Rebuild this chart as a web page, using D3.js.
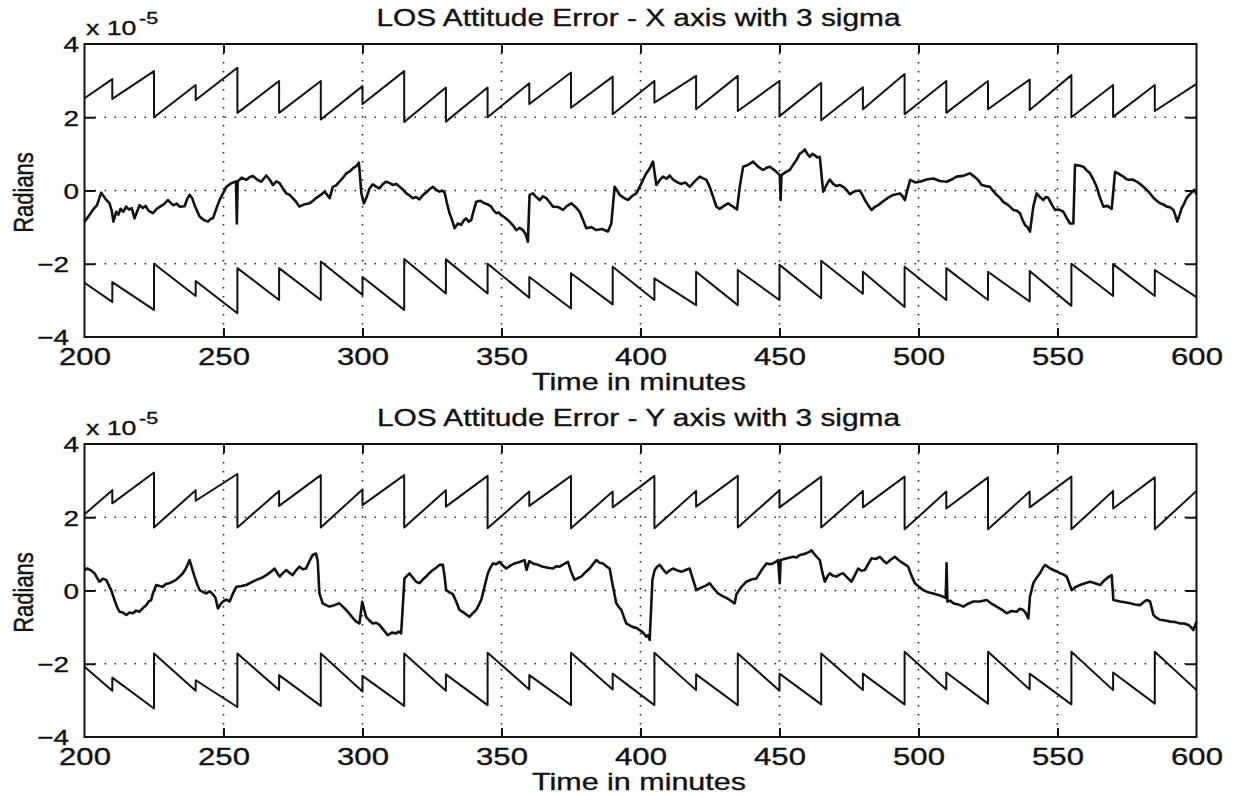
<!DOCTYPE html>
<html>
<head>
<meta charset="utf-8">
<script src="https://cdn.jsdelivr.net/npm/d3@7"></script>
<style>
body { margin: 0; background: #fff; }
text { font-family: "Liberation Sans", Arial, Helvetica, sans-serif; fill: #111; stroke: #111; stroke-width: 0.35px; }
</style>
</head>
<body>
<svg id="chart" width="1236" height="796"></svg>
<script>
// axis ticks
const timeTicks = [200, 250, 300, 350, 400, 450, 500, 550, 600];
const radTicks = [-4, -2, 0, 2, 4];
const gridTimes = [250, 300, 350, 400, 450, 500, 550];
const gridRads = [-2, 0, 2];

// 3 sigma envelope, [minute, value in 1e-5 rad] (vertices of the sawtooth)
const sigmaX = [
  [200,2.52],[210,3.04],[210,2.50],[225,3.26],[225,2.00],[240,2.88],[240,2.47],
  [255,3.35],[255,2.12],[270,2.99],[270,2.12],[285,2.99],[285,1.94],[300,2.85],
  [300,2.36],[315,3.26],[315,1.87],[330,2.81],[330,1.88],[345,2.81],[345,2.00],
  [360,2.93],[360,2.36],[375,3.22],[375,2.26],[390,3.11],[390,2.08],[405,2.99],
  [405,2.40],[420,3.13],[420,2.22],[435,3.13],[435,2.17],[450,2.99],[450,2.03],
  [465,2.94],[465,1.92],[480,2.82],[480,2.22],[495,3.18],[495,2.08],[510,2.99],
  [510,2.12],[525,2.99],[525,2.22],[540,3.03],[540,2.20],[555,3.15],[555,2.00],
  [570,2.88],[570,2.01],[585,2.88],[585,2.17],[600,2.91]
];
const sigmaY = [
  [200,2.08],[210,2.74],[210,2.38],[225,3.22],[225,1.72],[240,2.74],[240,2.45],
  [255,3.18],[255,1.72],[270,2.72],[270,2.31],[285,3.15],[285,1.72],[300,2.76],
  [300,2.33],[315,3.15],[315,1.72],[330,2.74],[330,2.29],[345,3.13],[345,1.70],
  [360,2.70],[360,2.31],[375,3.13],[375,1.70],[390,2.70],[390,2.27],[405,3.13],
  [405,1.70],[420,2.72],[420,2.29],[435,3.13],[435,1.72],[450,2.74],[450,2.27],
  [465,3.11],[465,1.72],[480,2.72],[480,2.27],[495,3.11],[495,1.67],[510,2.70],
  [510,2.24],[525,3.09],[525,1.67],[540,2.70],[540,2.27],[555,3.11],[555,1.67],
  [570,2.72],[570,2.24],[585,3.09],[585,1.67],[600,2.72]
];

// LOS attitude error, [minute, value in 1e-5 rad]
const errX = [
  [200,-0.85],[201.5,-0.70],[203,-0.53],[204.5,-0.40],[206,-0.06],[207.5,-0.22],[209,-0.35],[209.8,-0.55],
  [210.4,-0.85],[211.4,-0.58],[212.2,-0.66],[213,-0.50],[214,-0.58],[215,-0.44],[216,-0.52],[217,-0.48],
  [218,-0.76],[219.8,-0.40],[221,-0.48],[222,-0.42],[223,-0.55],[224.6,-0.62],[226,-0.50],[227,-0.45],
  [228.5,-0.38],[230,-0.26],[231,-0.34],[232,-0.40],[233.2,-0.36],[234.2,-0.44],[236,-0.43],[237,-0.22],
  [237.8,-0.12],[238.8,-0.22],[239.6,-0.40],[241.4,-0.71],[242.8,-0.80],[244.4,-0.85],[245.3,-0.78],
  [246.2,-0.76],[247.4,-0.50],[248.6,-0.26],[250,-0.05],[251,0.10],[252.8,0.20],[254.5,0.25],[254.8,-0.90],
  [255.1,0.25],[256.5,0.35],[258.2,0.29],[259.4,0.36],[260.6,0.40],[262,0.30],[263.6,0.24],[265.4,0.41],
  [266.6,0.30],[267.8,0.15],[269,0.25],[270.2,0.20],[271.4,0.05],[272.6,-0.08],[273.8,-0.12],[274.9,-0.21],
  [276,-0.30],[277.3,-0.44],[279,-0.38],[280.9,-0.35],[282.2,-0.28],[283.4,-0.20],[285,-0.12],[286.4,-0.03],
  [288.2,-0.21],[289.3,0.10],[290.5,0.14],[291.7,0.24],[293,0.35],[294.2,0.47],[295.4,0.52],[296.6,0.61],
  [297.7,0.66],[298.7,0.76],[299.6,-0.08],[300.5,-0.35],[301.4,-0.20],[302.5,0.05],[303.7,0.17],[305,0.10],
  [306.1,0.06],[307.4,0.18],[308.6,0.24],[309.8,0.20],[311,0.15],[312.2,0.18],[313.4,0.10],[314.6,0.02],
  [315.8,-0.08],[317,-0.14],[318.1,-0.21],[319.3,-0.18],[320.5,-0.24],[321.8,-0.12],[323,-0.05],[324.2,0.04],
  [325.3,0.10],[326.5,0.02],[327.7,-0.03],[328.6,0.00],[329.5,-0.05],[330.4,-0.35],[331.3,-0.62],[332.2,-0.80],
  [333.1,-1.03],[334.3,-0.90],[335.5,-0.94],[336.4,-0.82],[337.3,-0.76],[338.2,-0.85],[339.1,-0.81],[340,-0.55],
  [340.9,-0.31],[342.4,-0.28],[343.9,-0.35],[345.1,-0.38],[346.3,-0.44],[347.2,-0.55],[348.1,-0.62],[349,-0.60],
  [349.9,-0.67],[351.4,-0.75],[352.9,-0.85],[354.1,-0.95],[355.3,-1.08],[356.5,-1.02],[357.7,-1.08],[358.6,-1.18],
  [359.5,-1.40],[360.1,-0.12],[361.3,-0.08],[362.5,-0.18],[363.7,-0.26],[364.9,-0.16],[366.1,-0.21],[367.3,-0.32],
  [368.5,-0.44],[370.3,-0.45],[372.1,-0.53],[373.6,-0.42],[375.1,-0.35],[376.6,-0.45],[378.1,-0.58],[379.3,-0.80],
  [380.5,-1.03],[382.3,-1.00],[384.1,-1.08],[386.2,-1.05],[388.3,-1.12],[389.5,-0.90],[390.7,0.10],[391.6,0.00],
  [392.5,-0.12],[394,-0.20],[395.5,-0.26],[397,-0.15],[398.5,-0.08],[399.7,0.10],[400.9,0.29],[402.1,0.47],
  [403.3,0.60],[404.5,0.79],[405.7,0.15],[406.9,0.28],[408.1,0.38],[409.3,0.32],[410.5,0.41],[411.7,0.30],
  [412.9,0.24],[414.5,0.18],[416.1,0.22],[417.7,0.10],[419.5,0.25],[421.3,0.38],[422.5,0.33],[423.7,0.29],
  [424.9,0.10],[426.1,-0.17],[427.3,-0.44],[428.5,-0.50],[430,-0.42],[431.5,-0.35],[432.4,-0.40],[433.3,-0.44],
  [434.7,-0.52],[435.7,0.10],[436.9,0.65],[438.7,0.70],[440.5,0.79],[442.3,0.65],[444.1,0.56],[445.3,0.62],
  [446.5,0.65],[448.3,0.55],[450.1,0.42],[450.4,-0.26],[450.7,0.42],[452.2,0.50],[453.7,0.56],[454.9,0.70],
  [456.1,0.83],[457.3,1.01],[458.2,1.05],[459.1,1.12],[460,1.00],[460.9,0.92],[461.8,1.00],[462.7,0.96],
  [463.6,0.90],[464.5,0.92],[465.7,-0.03],[466.9,0.15],[468.1,0.30],[469.3,0.18],[470.5,0.12],[471.7,0.15],
  [472.9,0.10],[474.1,0.02],[475.3,-0.10],[477.1,-0.02],[478.9,0.00],[479.8,-0.12],[480.7,-0.26],[481.9,-0.40],
  [483.1,-0.53],[484.3,-0.45],[485.5,-0.40],[486.7,-0.33],[487.9,-0.26],[489.4,-0.18],[490.9,-0.12],[492.1,-0.10],
  [493.3,-0.08],[494.2,-0.15],[495.1,-0.26],[496.3,0.10],[497,0.29],[498.8,0.22],[500.5,0.24],[502.9,0.30],
  [505.3,0.33],[507.7,0.26],[510.1,0.24],[511.9,0.30],[513.7,0.38],[516.1,0.40],[518.5,0.47],[519.7,0.40],
  [520.9,0.33],[521.8,0.25],[522.7,0.15],[524.2,0.12],[525.7,0.10],[526.9,-0.02],[528.1,-0.12],[529.3,-0.20],
  [530.5,-0.31],[532.3,-0.40],[534.1,-0.53],[535.3,-0.55],[536.5,-0.62],[537.4,-0.80],[538.3,-0.94],[539.2,-1.00],
  [540.1,-1.12],[541.3,-0.44],[542.5,-0.08],[543.7,-0.18],[544.9,-0.26],[545.8,-0.18],[546.7,-0.20],[547.9,-0.38],
  [549.1,-0.53],[550.6,-0.52],[552.1,-0.58],[553.3,-0.75],[554.5,-0.90],[555.7,-0.90],[556.3,0.70],[557.8,0.68],
  [559.3,0.65],[560.5,0.55],[561.7,0.47],[562.9,0.30],[564.1,0.10],[565.3,-0.20],[566.5,-0.44],[568,-0.42],
  [569.5,-0.50],[570.7,0.51],[572.2,0.45],[573.7,0.38],[574.6,0.32],[575.5,0.29],[577,0.30],[578.5,0.24],
  [579.7,0.18],[580.9,0.10],[582.1,0.02],[583.3,-0.08],[584.5,-0.20],[585.7,-0.28],[586.9,-0.35],[588.1,-0.38],
  [589.3,-0.44],[590.5,-0.46],[591.7,-0.53],[592.4,-0.68],[593.1,-0.85],[594.7,-0.48],[595.6,-0.35],[596.5,-0.20],
  [597.4,-0.12],[598.3,-0.05],[599.2,0.02],[600,-0.10]
];
const errY = [
  [200,0.56],[201,0.60],[202.3,0.55],[203.6,0.47],[204.5,0.35],[205.4,0.24],[206.6,0.32],[207.8,0.29],
  [208.7,0.15],[209.6,0.01],[210.8,-0.26],[211.7,-0.45],[212.6,-0.58],[213.8,-0.60],[215,-0.67],[216.2,-0.60],
  [217.4,-0.62],[218.6,-0.55],[219.8,-0.58],[221,-0.48],[222.2,-0.40],[223.1,-0.30],[224,-0.26],[224.6,-0.08],
  [225.8,0.15],[227,0.12],[228.1,0.10],[229.3,0.18],[230.5,0.20],[231.7,0.24],[232.9,0.29],[234.2,0.38],
  [235.4,0.47],[236.6,0.62],[237.8,0.83],[238.7,0.60],[239.6,0.38],[240.5,0.18],[241.4,0.01],[242.6,-0.04],
  [243.8,-0.08],[245,-0.02],[246.2,-0.10],[247.1,-0.20],[248,-0.49],[248.9,-0.38],[249.8,-0.30],[251,-0.25],
  [252.2,-0.30],[253.4,-0.08],[254.6,0.10],[256.4,0.12],[258.2,0.15],[260,0.22],[261.8,0.29],[263.6,0.34],
  [265.4,0.42],[266.9,0.50],[268.4,0.60],[269.3,0.48],[270.2,0.38],[271.4,0.48],[272.6,0.56],[273.8,0.48],
  [274.9,0.42],[276.1,0.55],[277.3,0.65],[278.5,0.58],[279.7,0.60],[280.9,0.80],[282.1,0.97],[283.3,1.01],
  [283.9,0.80],[284.5,-0.08],[285.7,-0.35],[286.9,-0.40],[288.1,-0.44],[289.9,-0.40],[291.7,-0.35],[293.2,-0.46],
  [294.7,-0.58],[296.2,-0.72],[297.7,-0.85],[298.9,-0.90],[299.9,-0.31],[301.3,-0.72],[302.5,-0.82],[303.7,-0.90],
  [304.9,-0.88],[306.1,-0.94],[307.6,-1.08],[309.1,-1.22],[310.6,-1.15],[312.1,-1.17],[313,-1.12],[313.9,-1.17],
  [315.1,0.33],[316,0.40],[316.9,0.47],[318.1,0.35],[319.3,0.24],[320.5,0.20],[321.7,0.30],[322.9,0.38],
  [324.1,0.48],[325.3,0.56],[326.5,0.62],[327.7,0.70],[328.9,0.70],[329.5,0.40],[330.1,0.01],[331.3,-0.05],
  [332.5,-0.10],[333.7,-0.30],[334.9,-0.53],[336.7,-0.62],[338.5,-0.72],[339.7,-0.62],[340.9,-0.53],[341.8,-0.40],
  [342.7,-0.26],[343.3,-0.08],[344.2,0.20],[345.1,0.47],[346,0.62],[346.9,0.74],[348.1,0.72],[349.3,0.78],
  [350.5,0.68],[351.7,0.60],[353.2,0.68],[354.7,0.74],[356.5,0.78],[358.3,0.83],[359,0.56],[360,0.80],
  [361.3,0.74],[363.1,0.70],[364.9,0.65],[366.7,0.62],[368.5,0.60],[369.7,0.66],[370.9,0.65],[372.4,0.72],
  [373.9,0.78],[375.1,0.50],[376.3,0.29],[377.5,0.34],[378.7,0.38],[380.2,0.50],[381.7,0.60],[382.9,0.72],
  [384.1,0.83],[385.3,0.76],[386.5,0.74],[387.7,0.66],[388.9,0.60],[390.1,0.10],[391.3,-0.35],[392.2,-0.45],
  [393.1,-0.53],[394,-0.72],[394.9,-0.90],[396.1,-0.95],[397.3,-1.00],[398.5,-1.02],[399.7,-1.08],[400.9,-1.15],
  [402.1,-1.26],[402.7,-1.22],[403.3,-1.35],[404.3,0.30],[405.1,0.56],[406,0.65],[406.9,0.70],[408.1,0.58],
  [409.3,0.47],[410.5,0.55],[411.7,0.60],[413.2,0.55],[414.7,0.51],[416.2,0.56],[417.7,0.60],[418.9,0.30],
  [420.1,0.01],[421.3,0.06],[422.5,0.10],[423.7,0.14],[424.9,0.20],[426.4,0.05],[427.9,-0.08],[429.4,-0.15],
  [430.9,-0.20],[432.1,-0.26],[433.9,-0.35],[434.5,-0.10],[436.3,0.10],[438.1,0.24],[439.9,0.30],[441.7,0.33],
  [443.5,0.55],[445.3,0.74],[446.5,0.72],[447.7,0.74],[448.6,0.78],[449.5,0.83],[450.1,0.20],[450.4,0.83],
  [452.7,0.88],[454.9,0.92],[456.1,0.90],[457.3,0.97],[459.1,1.00],[460.9,1.06],[461.5,1.10],[463,0.95],
  [464.5,0.83],[465.4,0.50],[466.3,0.24],[467.2,0.38],[468.1,0.47],[469.3,0.40],[470.5,0.38],[471.7,0.44],
  [472.9,0.47],[474.4,0.35],[475.9,0.24],[477.1,0.42],[478.3,0.60],[479.5,0.54],[480.7,0.56],[481.9,0.72],
  [483.1,0.88],[484.6,0.86],[486.1,0.92],[487.3,0.82],[488.5,0.74],[490,0.84],[491.5,0.92],[493,0.82],
  [494.5,0.74],[495.4,0.70],[496.3,0.65],[497.5,0.40],[498.7,0.20],[500.2,0.10],[501.7,0.01],[503.5,-0.05],
  [505.3,-0.08],[507.1,-0.12],[508.9,-0.17],[509.8,-0.20],[510.1,0.74],[510.4,-0.30],[511.5,-0.28],[512.5,-0.35],
  [514.3,-0.38],[516.1,-0.44],[517.9,-0.36],[519.7,-0.30],[522.1,-0.30],[524.5,-0.26],[526.3,-0.36],[528.1,-0.44],
  [529.9,-0.52],[531.7,-0.62],[533.5,-0.56],[535.3,-0.58],[536.5,-0.50],[537.7,-0.53],[538.6,-0.62],[539.5,-0.76],
  [540.1,-0.17],[541.3,0.20],[542.5,0.35],[543.7,0.47],[544.6,0.60],[545.5,0.70],[547,0.62],[548.5,0.56],
  [549.7,0.52],[550.9,0.47],[552.1,0.44],[553.3,0.38],[554.2,0.20],[555.1,0.01],[556.6,0.10],[558.1,0.15],
  [559.9,0.20],[561.7,0.24],[563.5,0.20],[565.3,0.15],[566.5,0.25],[567.7,0.33],[568.6,0.38],[569.5,0.42],
  [570.1,-0.26],[571.3,-0.28],[572.5,-0.30],[574.3,-0.32],[576.1,-0.35],[577.9,-0.38],[579.7,-0.40],[580.9,-0.32],
  [582.1,-0.26],[583.3,-0.30],[584.5,-0.67],[585.7,-0.75],[586.9,-0.80],[588.7,-0.82],[590.5,-0.85],[592.3,-0.86],
  [594.1,-0.90],[595.6,-0.90],[597.1,-0.94],[598,-1.00],[598.9,-1.08],[600,-0.85]
];

// the scanned figure is wider than tall, so text gets squeezed the same way
const SX = 1.27;

class LosPanel {
  constructor(svg, top, title){
    this.svg = svg;
    this.left = 84.5;
    this.right = 1196.5;
    this.top = top;
    this.bottom = top + 293;
    this.title = title;

    this.x = d3.scaleLinear().domain([200, 600]).range([this.left, this.right]);
    this.y = d3.scaleLinear().domain([-4, 4]).range([this.bottom, this.top]);
    this.g = svg.append("g");
  }

  drawFrame(){
    let self = this;
    let g = self.g;

    // dotted grid
    g.append("g").selectAll("line")
    .data(gridTimes)
    .enter()
    .append("line")
    .attr("x1", d => self.x(d)).attr("x2", d => self.x(d))
    .attr("y1", self.top).attr("y2", self.bottom)
    .attr("stroke", "#222").attr("stroke-width", 1.6)
    .attr("stroke-dasharray", "1.6,7.4");
    g.append("g").selectAll("line")
    .data(gridRads)
    .enter()
    .append("line")
    .attr("x1", self.left).attr("x2", self.right)
    .attr("y1", d => self.y(d)).attr("y2", d => self.y(d))
    .attr("stroke", "#222").attr("stroke-width", 1.6)
    .attr("stroke-dasharray", "1.6,8.4");

    // inward ticks on all four sides
    let inner = [
      [d3.axisBottom(self.x).tickValues(gridTimes).tickSize(-9), `translate(0,${self.bottom})`],
      [d3.axisTop(self.x).tickValues(gridTimes).tickSize(-9), `translate(0,${self.top})`],
      [d3.axisLeft(self.y).tickValues(gridRads).tickSize(-11), `translate(${self.left},0)`],
      [d3.axisRight(self.y).tickValues(gridRads).tickSize(-11), `translate(${self.right},0)`]
    ];
    inner.forEach(function(a){
      let ax = g.append("g").attr("transform", a[1]).call(a[0].tickFormat(""));
      ax.select(".domain").remove();
      ax.selectAll("line").attr("stroke", "#111").attr("stroke-width", 2);
    });

    g.append("rect")
    .attr("x", self.left).attr("y", self.top)
    .attr("width", self.right - self.left).attr("height", self.bottom - self.top)
    .attr("fill", "none").attr("stroke", "#111").attr("stroke-width", 2);

    // tick labels
    let gx = g.append("g")
    .attr("transform", `translate(0,${self.bottom})`)
    .call(d3.axisBottom(self.x).tickValues(timeTicks).tickSize(0).tickFormat(d3.format("d")));
    gx.select(".domain").remove();
    gx.attr("font-family", null).attr("font-size", null);
    gx.selectAll("text")
    .attr("y", 28.5).attr("dy", null)
    .attr("font-size", 24.5)
    .attr("transform", `scale(${SX},1)`);

    let gy = g.append("g")
    .attr("transform", `translate(${self.left},0)`)
    .call(d3.axisLeft(self.y).tickValues(radTicks).tickSize(0).tickFormat(d3.format("d")));
    gy.select(".domain").remove();
    gy.attr("font-family", null).attr("font-size", null);
    gy.selectAll("text")
    .attr("x", d => d < 0 ? -15.5 / SX : -5.5 / SX)
    .attr("dy", "0.36em")
    .attr("font-size", 22)
    .attr("transform", `scale(${SX},1)`);

    // exponent above the y axis
    let ex = g.append("text")
    .attr("transform", `translate(86,${self.top - 9}) scale(${SX},1)`)
    .attr("font-size", 21)
    .text("x 10");
    ex.append("tspan")
    .attr("dy", -11)
    .attr("dx", 2)
    .attr("font-size", 17)
    .text("-5");

    g.append("text")
    .attr("transform", `translate(638.5,${self.top - 18}) scale(${SX},1)`)
    .attr("text-anchor", "middle")
    .attr("font-size", 23.5)
    .text(self.title);

    g.append("text")
    .attr("transform", `translate(639,${self.bottom + 53}) scale(${SX},1)`)
    .attr("text-anchor", "middle")
    .attr("font-size", 24)
    .text("Time in minutes");

    g.append("text")
    .attr("transform", `translate(33,${self.y(0) + 2}) scale(${SX},1) rotate(-90)`)
    .attr("text-anchor", "middle")
    .attr("font-size", 22)
    .text("Radians");
  }

  drawSigma(sigma){
    let self = this;
    let line = d3.line().x(d => self.x(d[0])).y(d => self.y(d[1]));
    let lower = sigma.map(d => [d[0], -d[1]]);
    self.g.selectAll("path.sigma")
    .data([sigma, lower])
    .enter()
    .append("path")
    .attr("class", "sigma")
    .attr("d", line)
    .attr("fill", "none")
    .attr("stroke", "#111")
    .attr("stroke-width", 2)
    .attr("stroke-linejoin", "round");
  }

  drawError(err){
    let self = this;
    let line = d3.line().x(d => self.x(d[0])).y(d => self.y(d[1]));
    self.g.append("path")
    .datum(err)
    .attr("d", line)
    .attr("fill", "none")
    .attr("stroke", "#111")
    .attr("stroke-width", 2.6)
    .attr("stroke-linejoin", "round");
  }
}

let svg = d3.select("#chart");
svg.append("rect").attr("width", 1236).attr("height", 796).attr("fill", "#fff");

let topPanel = new LosPanel(svg, 44, "LOS Attitude Error - X axis with 3 sigma");
topPanel.drawFrame();
topPanel.drawSigma(sigmaX);
topPanel.drawError(errX);

let bottomPanel = new LosPanel(svg, 444, "LOS Attitude Error - Y axis with 3 sigma");
bottomPanel.drawFrame();
bottomPanel.drawSigma(sigmaY);
bottomPanel.drawError(errY);
</script>
</body>
</html>
